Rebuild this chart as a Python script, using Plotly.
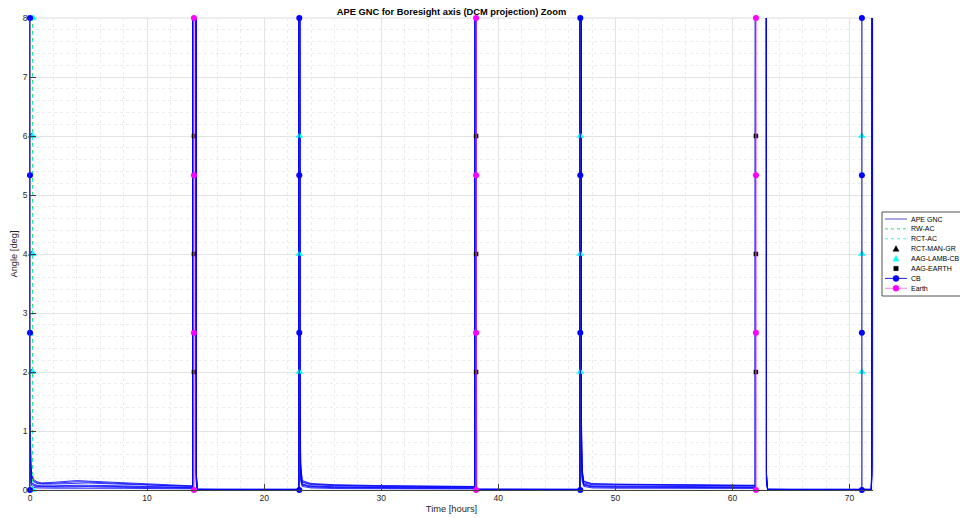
import plotly.graph_objects as go

# ---------------- data ----------------
ape_time = [0.0, 0.03, 0.08, 0.15, 0.3, 0.6, 1.0, 2.0, 3.0, 4.0, 5.0, 6.0, 8.0, 10.0, 12.0, 13.9,
            13.93, 14.16, 14.2, 14.3, 16.0, 18.0, 20.0, 22.95,
            22.97, 23.01, 23.05, 23.12, 23.25, 24.0, 26.0, 28.0, 30.0, 33.0, 36.0, 38.0,
            38.06, 38.1, 38.14, 40.0, 43.0, 46.98,
            47.0, 47.04, 47.08, 47.16, 47.3, 48.0, 50.0, 53.0, 56.0, 59.0, 61.95,
            61.98, 62.86, 62.9, 63.0, 65.0, 68.0, 71.85, 71.9, 72.0]

ape_run1 = [1.35, 0.9, 0.45, 0.28, 0.18, 0.14, 0.12, 0.13, 0.15, 0.16, 0.15, 0.14, 0.12, 0.1, 0.08, 0.07,
            30, 30, 0.3, 0.015, 0.012, 0.012, 0.01, 0.012,
            30, 30, 2.0, 0.45, 0.16, 0.11, 0.09, 0.08, 0.075, 0.07, 0.065, 0.06,
            30, 30, 0.015, 0.012, 0.012, 0.012,
            30, 30, 1.5, 0.35, 0.15, 0.11, 0.1, 0.095, 0.09, 0.085, 0.08,
            30, 30, 0.3, 0.015, 0.012, 0.012, 0.012, 0.5, 30]
ape_run2 = [0.95, 0.6, 0.35, 0.2, 0.14, 0.11, 0.1, 0.1, 0.11, 0.12, 0.12, 0.11, 0.1, 0.08, 0.07, 0.06,
            30, 30, 0.25, 0.012, 0.01, 0.01, 0.009, 0.01,
            30, 30, 1.6, 0.35, 0.13, 0.09, 0.075, 0.065, 0.06, 0.055, 0.05, 0.05,
            30, 30, 0.012, 0.01, 0.01, 0.01,
            30, 30, 1.2, 0.3, 0.12, 0.09, 0.085, 0.08, 0.075, 0.07, 0.07,
            30, 30, 0.25, 0.012, 0.01, 0.01, 0.01, 0.4, 30]
ape_run3 = [0.7, 0.45, 0.25, 0.15, 0.1, 0.08, 0.07, 0.07, 0.08, 0.08, 0.08, 0.08, 0.07, 0.06, 0.05, 0.045,
            30, 30, 0.2, 0.008, 0.007, 0.007, 0.006, 0.007,
            30, 30, 1.3, 0.28, 0.1, 0.07, 0.055, 0.05, 0.045, 0.04, 0.04, 0.038,
            30, 30, 0.008, 0.007, 0.007, 0.007,
            30, 30, 1.0, 0.25, 0.1, 0.07, 0.065, 0.06, 0.058, 0.055, 0.052,
            30, 30, 0.2, 0.008, 0.007, 0.007, 0.007, 0.3, 30]
ape_run4 = [0.5, 0.3, 0.18, 0.1, 0.07, 0.055, 0.05, 0.05, 0.05, 0.055, 0.055, 0.05, 0.045, 0.04, 0.035, 0.03,
            30, 30, 0.15, 0.005, 0.005, 0.004, 0.005, 0.005,
            30, 30, 1.0, 0.2, 0.08, 0.05, 0.04, 0.035, 0.032, 0.03, 0.03, 0.028,
            30, 30, 0.005, 0.005, 0.004, 0.005,
            30, 30, 0.8, 0.2, 0.08, 0.05, 0.045, 0.045, 0.042, 0.04, 0.04,
            30, 30, 0.15, 0.005, 0.005, 0.004, 0.005, 0.25, 30]
ape_run5 = [0.3, 0.2, 0.12, 0.07, 0.045, 0.035, 0.03, 0.03, 0.03, 0.032, 0.03, 0.03, 0.028, 0.025, 0.022, 0.02,
            30, 30, 0.1, 0.003, 0.003, 0.003, 0.003, 0.003,
            30, 30, 0.8, 0.15, 0.06, 0.035, 0.025, 0.022, 0.02, 0.02, 0.018, 0.018,
            30, 30, 0.003, 0.003, 0.003, 0.003,
            30, 30, 0.6, 0.15, 0.06, 0.035, 0.03, 0.03, 0.028, 0.027, 0.026,
            30, 30, 0.1, 0.003, 0.003, 0.003, 0.003, 0.2, 30]
ape_run6 = [1.1, 0.75, 0.4, 0.24, 0.16, 0.12, 0.11, 0.115, 0.13, 0.14, 0.135, 0.125, 0.11, 0.09, 0.075, 0.065,
            30, 30, 0.28, 0.013, 0.011, 0.011, 0.01, 0.011,
            30, 30, 1.8, 0.4, 0.14, 0.1, 0.08, 0.072, 0.068, 0.062, 0.058, 0.055,
            30, 30, 0.013, 0.011, 0.011, 0.011,
            30, 30, 1.4, 0.32, 0.14, 0.1, 0.095, 0.09, 0.085, 0.078, 0.075,
            30, 30, 0.28, 0.013, 0.011, 0.011, 0.011, 0.45, 30]
ape_run7 = [0.6, 0.38, 0.22, 0.12, 0.085, 0.065, 0.06, 0.06, 0.065, 0.068, 0.066, 0.063, 0.058, 0.05, 0.042, 0.038,
            30, 30, 0.18, 0.006, 0.006, 0.005, 0.005, 0.006,
            30, 30, 1.15, 0.24, 0.09, 0.06, 0.048, 0.042, 0.038, 0.035, 0.034, 0.033,
            30, 30, 0.006, 0.006, 0.005, 0.006,
            30, 30, 0.9, 0.22, 0.09, 0.06, 0.055, 0.052, 0.05, 0.048, 0.046,
            30, 30, 0.18, 0.006, 0.006, 0.005, 0.006, 0.28, 30]
ape_runs = [ape_run1, ape_run2, ape_run3, ape_run4, ape_run5, ape_run6, ape_run7]

cb_time = [0.0, 23.0, 47.0, 71.05]
earth_time = [14.0, 38.1, 62.0]
event_levels = [0.0, 8 / 3, 16 / 3, 8.0]

aag_earth_time = [14.0, 38.1, 62.0]
aag_lamb_cb_time = [0.22, 23.0, 47.0, 71.05]
aag_levels = [2.0, 4.0, 6.0]
aag_lamb_cb_extra_x = [0.25, 0.25]
aag_lamb_cb_extra_y = [0.0, 8.0]

rct_man_gr_time = [0.12]
rw_ac_time = [0.22]
rct_ac_time = [0.22]
vline_span = [0.0, 8.0]

x_ticks = [0, 10, 20, 30, 40, 50, 60, 70]
y_ticks = [0, 1, 2, 3, 4, 5, 6, 7, 8]

legend_names = ["APE GNC", "RW-AC", "RCT-AC", "RCT-MAN-GR", "AAG-LAMB-CB", "AAG-EARTH", "CB", "Earth"]

# ---------------- styles ----------------
APE_COLOR = "#0000ff"
RW_COLOR = "#33dd66"
RCT_COLOR = "#44eedd"
CB_LINE = "#2222cc"
CB_MARK = "#0000ff"
EARTH_LINE = "#dd44dd"
EARTH_MARK = "#ff00ff"
AAG_LAMB_COLOR = "#00ffff"
FONT = "Liberation Sans, Arial, sans-serif"


def vlines(times, levels):
    xs, ys = [], []
    for t in times:
        for lv in levels:
            xs.append(t)
            ys.append(lv)
        xs.append(None)
        ys.append(None)
    return xs, ys


def points(times, levels):
    xs, ys = [], []
    for t in times:
        for lv in levels:
            xs.append(t)
            ys.append(lv)
    return xs, ys


fig = go.Figure()

for i, run in enumerate(ape_runs):
    fig.add_trace(go.Scatter(
        x=ape_time, y=run, mode="lines", name="APE GNC",
        line=dict(color=APE_COLOR, width=0.8), showlegend=False))

x, y = vlines(rw_ac_time, vline_span)
fig.add_trace(go.Scatter(x=x, y=y, mode="lines", name="RW-AC", showlegend=False,
                         line=dict(color=RW_COLOR, width=1.2, dash="4px,3px")))
x, y = vlines(rct_ac_time, vline_span)
fig.add_trace(go.Scatter(x=x, y=y, mode="lines", name="RCT-AC", showlegend=False,
                         line=dict(color=RCT_COLOR, width=1.2, dash="2px,5px")))

x, y = points(rct_man_gr_time, aag_levels)
fig.add_trace(go.Scatter(x=x, y=y, mode="markers", name="RCT-MAN-GR", cliponaxis=False, showlegend=False,
                         marker=dict(symbol="triangle-up", color="black", size=6)))

x, y = points(aag_lamb_cb_time, aag_levels)
x = x + aag_lamb_cb_extra_x
y = y + aag_lamb_cb_extra_y
fig.add_trace(go.Scatter(x=x, y=y, mode="markers", name="AAG-LAMB-CB", cliponaxis=False, showlegend=False,
                         marker=dict(symbol="triangle-up", color=AAG_LAMB_COLOR, size=7)))

x, y = points(aag_earth_time, aag_levels)
fig.add_trace(go.Scatter(x=x, y=y, mode="markers", name="AAG-EARTH", cliponaxis=False, showlegend=False,
                         marker=dict(symbol="square", color="black", size=4.5)))

x, y = vlines(cb_time, event_levels)
fig.add_trace(go.Scatter(x=x, y=y, mode="lines+markers", name="CB", cliponaxis=False, showlegend=False,
                         line=dict(color=CB_LINE, width=1.2),
                         marker=dict(symbol="circle", color=CB_MARK, size=6)))

x, y = vlines(earth_time, event_levels)
fig.add_trace(go.Scatter(x=x, y=y, mode="lines+markers", name="Earth", cliponaxis=False, showlegend=False,
                         line=dict(color=EARTH_LINE, width=1.2),
                         marker=dict(symbol="circle", color=EARTH_MARK, size=6)))

axis_font = dict(family=FONT, size=8.5, color="#262626")

# plot area in pixels
PL, PR, PT, PB = 30, 873, 18, 490
W, H = 960, 518


def px(xp):
    return (xp - PL) / (PR - PL)


def py(yp):
    return (PB - yp) / (PB - PT)


fig.update_layout(
    width=W, height=H,
    margin=dict(l=PL, r=W - PR, t=PT, b=H - PB, autoexpand=False),
    paper_bgcolor="white", plot_bgcolor="white",
    font=axis_font,
    title=dict(text="<b>APE GNC for Boresight axis (DCM projection) Zoom</b>",
               x=0.5, xref="paper", xanchor="center",
               y=1 - 12 / H, yref="container", yanchor="middle",
               font=dict(family=FONT, size=9.3, color="black")),
    showlegend=False,
)

fig.update_xaxes(
    range=[0, 72], tickvals=x_ticks, ticks="inside", ticklen=6, tickcolor="#404040",
    showline=True, linecolor="#404040", linewidth=0.8, mirror=False,
    showgrid=True, gridcolor="#e3e3e3", gridwidth=1, zeroline=False,
    minor=dict(dtick=2, showgrid=True, gridcolor="#ececec", griddash="dot", gridwidth=1),
    title=dict(text="Time [hours]", standoff=3, font=dict(size=9.3, color="#262626")),
    tickfont=axis_font,
)
fig.update_yaxes(
    range=[0, 8], tickvals=y_ticks, ticks="inside", ticklen=6, tickcolor="#404040",
    showline=True, linecolor="#404040", linewidth=0.8, mirror=False,
    showgrid=True, gridcolor="#e3e3e3", gridwidth=1, zeroline=False,
    minor=dict(dtick=0.2, showgrid=True, gridcolor="#ececec", griddash="dot", gridwidth=1),
    title=dict(text="Angle [deg]", standoff=3, font=dict(size=9.3, color="#262626")),
    tickfont=axis_font,
)

# plot box (light)
fig.add_shape(type="rect", xref="paper", yref="paper", x0=0, x1=1, y0=0, y1=1,
              line=dict(color="#dcdcdc", width=1), layer="below")

# ---------------- legend (drawn to match the MATLAB legend box) ----------------
LEG_L, LEG_T, LEG_B = 882, 212, 296
fig.add_shape(type="rect", xref="paper", yref="paper",
              x0=px(LEG_L), x1=px(975), y0=py(LEG_B), y1=py(LEG_T),
              line=dict(color="#262626", width=0.8), fillcolor="white", layer="above")

row_y = [219, 228.9, 238.8, 248.7, 258.6, 268.5, 278.4, 288.3]
line_x0, line_x1, mark_x, text_x = 885, 907, 896, 909

legend_lines = {
    "APE GNC": dict(color="#5555cc", width=1, dash="solid"),
    "RW-AC": dict(color=RW_COLOR, width=1, dash="3px,3px"),
    "RCT-AC": dict(color=RCT_COLOR, width=1, dash="3px,3px"),
    "CB": dict(color=CB_LINE, width=1, dash="solid"),
    "Earth": dict(color="#ee99ee", width=1.2, dash="solid"),
}
legend_marks = {
    "RCT-MAN-GR": ("tri", "black"),
    "AAG-LAMB-CB": ("tri", AAG_LAMB_COLOR),
    "AAG-EARTH": ("sq", "black"),
    "CB": ("circ", CB_MARK),
    "Earth": ("circ", EARTH_MARK),
}

for name, yc in zip(legend_names, row_y):
    if name in legend_lines:
        fig.add_shape(type="line", xref="paper", yref="paper",
                      x0=px(line_x0), x1=px(line_x1), y0=py(yc), y1=py(yc),
                      line=legend_lines[name], layer="above")
    if name in legend_marks:
        kind, col = legend_marks[name]
        common = dict(xref="paper", yref="paper", xsizemode="pixel", ysizemode="pixel",
                      xanchor=px(mark_x), yanchor=py(yc), fillcolor=col,
                      line=dict(color=col, width=0.5), layer="above")
        if kind == "circ":
            fig.add_shape(type="circle", x0=-3, x1=3, y0=-3, y1=3, **common)
        elif kind == "sq":
            fig.add_shape(type="rect", x0=-2.2, x1=2.2, y0=-2.2, y1=2.2, **common)
        else:
            fig.add_shape(type="path", path="M -3,-2.5 L 3,-2.5 L 0,3 Z", **common)
    fig.add_annotation(text=name, xref="paper", yref="paper", x=px(text_x), y=py(yc),
                       xanchor="left", yanchor="middle", showarrow=False,
                       font=dict(family=FONT, size=7, color="black"))

fig.write_html("out.html")
